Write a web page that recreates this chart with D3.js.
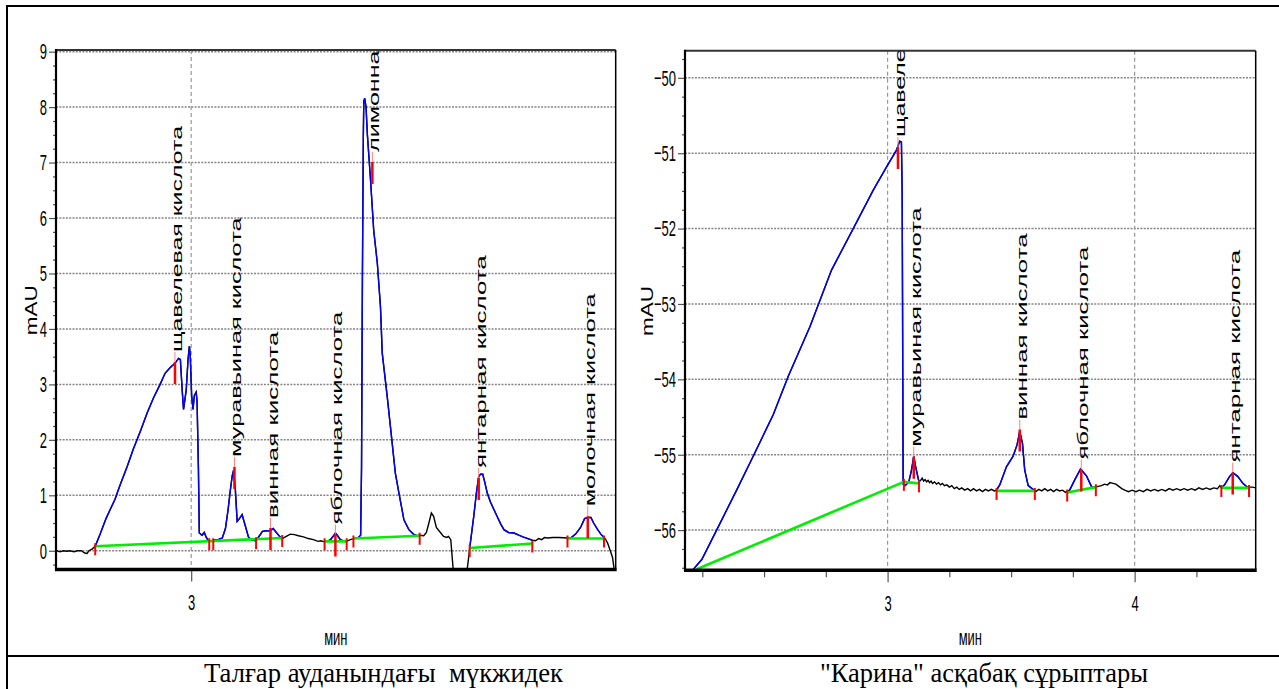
<!DOCTYPE html>
<html>
<head>
<meta charset="utf-8">
<script src="https://cdn.jsdelivr.net/npm/d3@7"></script>
<style>
  body { margin: 0; background: #fff; }
  svg { display: block; }
</style>
</head>
<body>
<svg id="fig" width="1279" height="689"></svg>
<script>
// ---------------- Left chromatogram (time in min, signal in mAU) ----------------
var leftTrace = [
  [2.702,0.00],[2.709,-0.02],[2.716,0.00],[2.724,-0.01],[2.731,0.00],[2.740,-0.02],[2.747,0.00],[2.756,0.00],
  [2.764,-0.04],[2.769,-0.05],[2.773,0.00],[2.780,0.03],[2.787,0.08],
  [2.798,0.30],[2.811,0.58],[2.820,0.74],[2.831,0.93],[2.842,1.18],[2.858,1.52],[2.871,1.82],[2.887,2.15],
  [2.902,2.48],[2.916,2.75],[2.931,3.00],[2.942,3.20],[2.953,3.30],[2.964,3.38],[2.972,3.47],[2.976,3.45],
  [2.980,2.90],[2.983,2.55],[2.989,2.90],[2.993,3.45],[2.996,3.69],[2.998,3.50],[3.001,2.80],[3.004,2.55],
  [3.007,2.80],[3.011,2.86],[3.013,2.70],[3.016,1.50],[3.018,0.32],[3.024,0.28],[3.029,0.33],[3.033,0.25],
  [3.038,0.18],[3.044,0.17],[3.051,0.20],[3.060,0.20],[3.069,0.23],[3.076,0.40],[3.082,0.75],[3.087,1.10],
  [3.091,1.35],[3.094,1.45],[3.098,1.10],[3.102,0.53],[3.107,0.58],[3.113,0.65],[3.120,0.45],[3.127,0.25],
  [3.133,0.20],[3.142,0.18],[3.149,0.24],[3.158,0.35],[3.167,0.36],[3.176,0.36],[3.182,0.40],[3.189,0.33],
  [3.196,0.26],[3.202,0.22],
  [3.211,0.26],[3.220,0.30],[3.229,0.29],[3.238,0.27],[3.249,0.25],[3.260,0.22],[3.271,0.20],[3.282,0.17],
  [3.287,0.18],[3.296,0.16],[3.302,0.17],
  [3.309,0.20],[3.316,0.27],[3.320,0.32],[3.324,0.28],[3.331,0.20],[3.340,0.17],[3.347,0.18],
  [3.353,0.20],[3.362,0.22],
  [3.371,0.24],[3.376,0.28],[3.378,1.50],[3.380,5.00],[3.382,7.50],[3.383,8.10],[3.385,8.16],[3.388,8.00],
  [3.391,7.50],[3.398,6.68],[3.405,5.78],[3.413,5.19],[3.420,4.40],[3.424,3.56],[3.435,2.78],[3.446,1.94],
  [3.453,1.40],[3.461,1.04],[3.472,0.56],[3.483,0.38],[3.493,0.30],[3.502,0.27],[3.507,0.28],
  [3.516,0.27],[3.522,0.33],[3.529,0.55],[3.533,0.68],[3.538,0.62],[3.544,0.42],[3.553,0.33],[3.560,0.26],
  [3.567,0.24],[3.571,0.26],[3.576,0.20],[3.578,0.00],[3.580,-0.20],[3.582,-0.40],[3.589,-0.80],
  [3.607,-0.80],[3.613,-0.30],[3.616,-0.10],[3.618,0.05],
  [3.622,0.30],[3.627,0.62],[3.633,1.05],[3.638,1.34],[3.642,1.38],[3.647,1.38],[3.651,1.25],[3.657,1.04],
  [3.664,0.88],[3.672,0.74],[3.680,0.60],[3.687,0.48],[3.694,0.38],[3.704,0.33],[3.716,0.32],[3.727,0.28],
  [3.736,0.25],[3.747,0.22],[3.757,0.19],
  [3.764,0.18],[3.771,0.22],[3.778,0.20],[3.784,0.24],[3.791,0.23],[3.802,0.24],[3.816,0.24],[3.835,0.23],
  [3.842,0.23],[3.853,0.30],[3.864,0.42],[3.873,0.58],[3.880,0.60],[3.887,0.60],[3.893,0.50],[3.902,0.38],
  [3.909,0.30],[3.916,0.24],
  [3.920,0.20],[3.924,0.14],[3.930,0.00],[3.935,-0.12],[3.938,-0.30],[3.940,-0.40]
];
var leftBlue = [[2.787,3.202],[3.302,3.347],[3.362,3.507],[3.618,3.757],[3.835,3.916]];
var leftBase = [
  [[2.787,0.08],[3.202,0.23]],
  [[3.296,0.17],[3.345,0.17]],
  [[3.360,0.22],[3.507,0.27]],
  [[3.618,0.05],[3.757,0.13]],
  [[3.835,0.22],[3.916,0.22]]
];
var leftCuts = [[2.787,0.08],[3.040,0.17],[3.049,0.17],[3.144,0.19],[3.202,0.23],[3.296,0.17],[3.345,0.17],
  [3.360,0.22],[3.507,0.27],[3.618,0.05],[3.757,0.13],[3.835,0.22],[3.916,0.22]];
var leftPeakNames = ["щавелевая кислота","муравьиная кислота","винная кислота","яблочная кислота",
  "лимонная кислота","янтарная кислота","молочная кислота"];
var leftPeakTimes = [2.964,3.096,3.176,3.320,3.402,3.638,3.880];
var leftPeakValues = [3.33,1.44,0.34,0.22,6.94,1.24,0.55];
var leftYTicks = [0,1,2,3,4,5,6,7,8,9];
var leftYMinor = [-0.25,0.25,0.5,0.75,1.25,1.5,1.75,2.25,2.5,2.75,3.25,3.5,3.75,4.25,4.5,4.75,
  5.25,5.5,5.75,6.25,6.5,6.75,7.25,7.5,7.75,8.25,8.5,8.75];
var leftXTicks = [3];
var leftXMinor = [];

// ---------------- Right chromatogram ----------------
var rightTrace = [
  [2.190,-56.55],[2.205,-56.54],
  [2.214,-56.52],[2.248,-56.39],[2.308,-56.00],[2.389,-55.47],[2.456,-55.02],[2.537,-54.47],[2.598,-53.96],
  [2.686,-53.30],[2.773,-52.55],[2.861,-52.00],[2.942,-51.49],[2.996,-51.18],[3.036,-50.96],[3.049,-50.84],
  [3.056,-50.85],[3.059,-51.50],[3.063,-55.39],[3.071,-55.41],[3.086,-55.36],[3.097,-55.20],[3.106,-55.02],
  [3.113,-55.15],[3.127,-55.36],
  [3.134,-55.34],[3.140,-55.31],[3.146,-55.35],[3.152,-55.33],[3.158,-55.36],[3.164,-55.34],[3.170,-55.37],
  [3.176,-55.35],[3.182,-55.38],[3.190,-55.36],[3.198,-55.39],[3.206,-55.37],[3.214,-55.40],[3.222,-55.38],
  [3.230,-55.41],[3.240,-55.40],[3.250,-55.43],[3.260,-55.41],[3.270,-55.45],[3.280,-55.43],[3.290,-55.46],
  [3.300,-55.44],[3.312,-55.47],[3.324,-55.45],[3.336,-55.48],[3.348,-55.45],[3.360,-55.48],[3.372,-55.46],
  [3.384,-55.49],[3.396,-55.46],[3.408,-55.48],[3.420,-55.46],[3.432,-55.48],[3.441,-55.47],
  [3.454,-55.40],[3.481,-55.16],[3.508,-55.02],[3.524,-54.87],[3.535,-54.69],[3.546,-54.85],[3.555,-55.20],
  [3.569,-55.41],[3.589,-55.46],
  [3.600,-55.49],[3.612,-55.46],[3.624,-55.48],[3.636,-55.45],[3.648,-55.48],[3.660,-55.46],[3.672,-55.49],
  [3.684,-55.46],[3.696,-55.48],[3.708,-55.47],[3.720,-55.50],[3.737,-55.47],
  [3.758,-55.33],[3.781,-55.19],[3.805,-55.28],[3.825,-55.42],[3.839,-55.43],
  [3.852,-55.42],[3.866,-55.41],[3.878,-55.39],[3.890,-55.40],[3.900,-55.37],[3.912,-55.38],[3.924,-55.39],
  [3.936,-55.42],[3.948,-55.45],[3.960,-55.47],[3.975,-55.49],[3.990,-55.47],[4.005,-55.49],[4.020,-55.47],
  [4.035,-55.49],[4.050,-55.46],[4.065,-55.48],[4.080,-55.46],[4.095,-55.48],[4.110,-55.46],[4.125,-55.48],
  [4.140,-55.45],[4.155,-55.47],[4.170,-55.45],[4.185,-55.47],[4.200,-55.45],[4.215,-55.47],[4.230,-55.45],
  [4.245,-55.47],[4.260,-55.44],[4.275,-55.46],[4.290,-55.44],[4.305,-55.46],[4.320,-55.44],[4.335,-55.45],
  [4.345,-55.41],[4.351,-55.44],
  [4.364,-55.40],[4.384,-55.29],[4.398,-55.24],[4.418,-55.29],[4.438,-55.38],[4.452,-55.42],
  [4.465,-55.43],[4.478,-55.43],[4.490,-55.44]
];
var rightBlue = [[2.214,3.127],[3.441,3.589],[3.737,3.839],[4.351,4.452]];
var rightBase = [
  [[2.227,-56.52],[3.066,-55.36]],
  [[3.066,-55.36],[3.127,-55.38]],
  [[3.441,-55.48],[3.596,-55.48]],
  [[3.727,-55.50],[3.843,-55.43]],
  [[4.351,-55.44],[4.463,-55.44]]
];
var rightCuts = [[3.066,-55.36],[3.127,-55.38],[3.441,-55.48],[3.596,-55.48],[3.727,-55.50],[3.843,-55.43],
  [4.351,-55.44],[4.463,-55.44]];
var rightPeakNames = ["щавелевая кислота","муравьиная кислота","винная кислота","яблочная кислота","янтарная кислота"];
var rightPeakTimes = [3.042,3.106,3.535,3.784,4.397];
var rightPeakValues = [-50.97,-55.08,-54.72,-55.25,-55.29];
var rightYTicks = [-56,-55,-54,-53,-52,-51,-50];
var rightYMinor = [-56.5,-56.25,-55.75,-55.5,-55.25,-54.75,-54.5,-54.25,-53.75,-53.5,-53.25,-52.75,-52.5,
  -52.25,-51.75,-51.5,-51.25,-50.75,-50.5,-50.25,-49.75];
var rightXTicks = [3,4];
var rightXMinor = [2.25,2.5,2.75,3.25,3.5,3.75,4.25];

var captions = ["Талғар ауданындағы  мүкжидек", "\"Карина\" асқабақ сұрыптары"];
var yTitle = "mAU", xTitle = "мин";

var svg = d3.select("#fig");
var tickFont = "'Liberation Sans', Arial, sans-serif";

// ---------------- table frame and captions ----------------
svg.append("line").attr("x1", 7).attr("x2", 1279).attr("y1", 6).attr("y2", 6).attr("stroke", "#000").attr("stroke-width", 2);
svg.append("line").attr("x1", 7).attr("x2", 7).attr("y1", 5).attr("y2", 689).attr("stroke", "#000").attr("stroke-width", 2);
svg.append("line").attr("x1", 7).attr("x2", 1279).attr("y1", 656).attr("y2", 656).attr("stroke", "#000").attr("stroke-width", 2);

svg.selectAll("text.caption").data(captions).enter().append("text")
  .attr("class", "caption")
  .attr("x", function(d, i) { return i == 0 ? 204 : 820; })
  .attr("y", 682)
  .attr("textLength", function(d, i) { return i == 0 ? 359 : 328; })
  .attr("lengthAdjust", "spacingAndGlyphs")
  .style("font-family", "'Liberation Serif', 'Times New Roman', serif")
  .style("font-size", "27px")
  .style("white-space", "pre")
  .text(function(d) { return d; });

function drawChart(c, id) {
  var x = d3.scaleLinear().domain(c.xDomain).range([c.left, c.right]);
  var y = d3.scaleLinear().domain(c.yDomain).range([c.bottom, c.top]);
  var g = svg.append("g");

  g.append("clipPath").attr("id", "clip" + id).append("rect")
    .attr("x", c.left).attr("y", c.top)
    .attr("width", c.right - c.left).attr("height", c.bottom - c.top);

  // grid
  g.selectAll("line.hgrid").data(c.yTicks).enter().append("line")
    .attr("x1", c.left).attr("x2", c.right)
    .attr("y1", function(d) { return y(d); }).attr("y2", function(d) { return y(d); })
    .attr("stroke", "#858585").attr("stroke-width", 1.5).attr("stroke-dasharray", "2,1.3");
  g.selectAll("line.vgrid").data(c.xTicks).enter().append("line")
    .attr("x1", function(d) { return x(d); }).attr("x2", function(d) { return x(d); })
    .attr("y1", c.top).attr("y2", c.bottom)
    .attr("stroke", "#999").attr("stroke-width", 1.2).attr("stroke-dasharray", "4,3");

  // axes
  var yAxis = g.append("g").attr("transform", "translate(" + c.left + ",0)")
    .call(d3.axisLeft(y).tickValues(c.yTicks).tickSize(7).tickPadding(2).tickFormat(d3.format("d")));
  var yMinor = g.append("g").attr("transform", "translate(" + c.left + ",0)")
    .call(d3.axisLeft(y).tickValues(c.yMinor).tickSize(3).tickFormat(""));
  var xAxis = g.append("g").attr("transform", "translate(0," + c.bottom + ")")
    .call(d3.axisBottom(x).tickValues(c.xTicks).tickSize(13).tickFormat(d3.format("d")));
  var xMinor = g.append("g").attr("transform", "translate(0," + c.bottom + ")")
    .call(d3.axisBottom(x).tickValues(c.xMinor).tickSize(8).tickFormat(""));
  [yAxis, yMinor, xAxis, xMinor].forEach(function(a) {
    a.select(".domain").remove();
    a.selectAll("line").attr("stroke", "#555").attr("stroke-width", 1.2);
    a.selectAll("text").style("font-family", tickFont).style("font-size", "13px").attr("fill", "#000");
  });
  yAxis.selectAll("text").attr("transform", "scale(1,1.75)");
  xAxis.selectAll("text").attr("y", 19).attr("dy", "0.35em").attr("transform", "scale(1,1.75)");

  // signal: black everywhere, blue over the integrated peaks
  var line = d3.line().x(function(d) { return x(d[0]); }).y(function(d) { return y(d[1]); });
  var plot = g.append("g").attr("clip-path", "url(#clip" + id + ")");
  plot.append("path").datum(c.trace).attr("d", line)
    .attr("fill", "none").attr("stroke", "#000").attr("stroke-width", 1.4);
  plot.selectAll("path.blue").data(c.blue).enter().append("path")
    .attr("d", function(r) { return line(c.trace.filter(function(p) { return p[0] >= r[0] && p[0] <= r[1]; })); })
    .attr("fill", "none").attr("stroke", "#0000ff").attr("stroke-width", 1.4);
  plot.selectAll("path.base").data(c.base).enter().append("path")
    .attr("d", line).attr("fill", "none").attr("stroke", "#00ee00").attr("stroke-width", 2.6);
  plot.selectAll("line.cut").data(c.cuts).enter().append("line")
    .attr("x1", function(d) { return x(d[0]); }).attr("x2", function(d) { return x(d[0]); })
    .attr("y1", function(d) { return y(d[1]) - 3; }).attr("y2", function(d) { return y(d[1]) + 9; })
    .attr("stroke", "#ff0000").attr("stroke-width", 2);

  // apex markers and names
  plot.selectAll("line.apexThin").data(c.peakTimes).enter().append("line")
    .attr("x1", function(d) { return x(d); }).attr("x2", function(d) { return x(d); })
    .attr("y1", function(d, i) { return y(c.peakValues[i]) - 14; })
    .attr("y2", function(d, i) { return y(c.peakValues[i]) - 4; })
    .attr("stroke", "#ff8080").attr("stroke-width", 1);
  plot.selectAll("line.apex").data(c.peakTimes).enter().append("line")
    .attr("x1", function(d) { return x(d); }).attr("x2", function(d) { return x(d); })
    .attr("y1", function(d, i) { return y(c.peakValues[i]) - 4; })
    .attr("y2", function(d, i) { return y(c.peakValues[i]) + 18; })
    .attr("stroke", "#ff0000").attr("stroke-width", 2.5);
  plot.selectAll("text.peak").data(c.peakNames).enter().append("text")
    .attr("transform", function(d, i) {
      return "translate(" + (x(c.peakTimes[i]) + 7) + "," + (y(c.peakValues[i]) - 14) + ") rotate(-90)";
    })
    .attr("textLength", function(d) { return d.length * 13.3; })
    .attr("lengthAdjust", "spacingAndGlyphs")
    .style("font-family", tickFont).style("font-size", "15px")
    .text(function(d) { return d; });

  // frame
  g.append("line").attr("x1", c.left).attr("x2", c.right).attr("y1", c.top).attr("y2", c.top)
    .attr("stroke", "#333").attr("stroke-width", 2);
  g.append("line").attr("x1", c.right).attr("x2", c.right).attr("y1", c.top).attr("y2", c.bottom)
    .attr("stroke", "#000").attr("stroke-width", 1.5);
  g.append("line").attr("x1", c.left).attr("x2", c.left).attr("y1", c.top - 1).attr("y2", c.bottom + 2)
    .attr("stroke", "#000").attr("stroke-width", 2.2);
  g.append("line").attr("x1", c.left - 1).attr("x2", c.right + 1).attr("y1", c.bottom + 1).attr("y2", c.bottom + 1)
    .attr("stroke", "#000").attr("stroke-width", 3.5);

  // titles
  g.append("text")
    .attr("transform", "translate(" + (c.left - c.titleGap) + "," + ((c.top + c.bottom) / 2 + 1) + ") rotate(-90)")
    .attr("text-anchor", "middle")
    .attr("textLength", 50).attr("lengthAdjust", "spacingAndGlyphs")
    .style("font-family", tickFont).style("font-size", "16px")
    .text(yTitle);
  g.append("g").attr("transform", "translate(" + ((c.left + c.right) / 2) + ",645)")
    .append("text").attr("text-anchor", "middle").attr("transform", "scale(1,1.75)")
    .style("font-family", tickFont).style("font-size", "13px")
    .text(xTitle);
}

drawChart({
  left: 56, right: 615.7, top: 50, bottom: 568.5, titleGap: 19,
  xDomain: [2.7, 3.942], yDomain: [-0.32, 9.03],
  trace: leftTrace, blue: leftBlue, base: leftBase, cuts: leftCuts,
  peakNames: leftPeakNames, peakTimes: leftPeakTimes, peakValues: leftPeakValues,
  yTicks: leftYTicks, yMinor: leftYMinor, xTicks: leftXTicks, xMinor: leftXMinor
}, "L");

drawChart({
  left: 685, right: 1255.7, top: 50.7, bottom: 569.3, titleGap: 32,
  xDomain: [2.18, 4.49], yDomain: [-56.52, -49.64],
  trace: rightTrace, blue: rightBlue, base: rightBase, cuts: rightCuts,
  peakNames: rightPeakNames, peakTimes: rightPeakTimes, peakValues: rightPeakValues,
  yTicks: rightYTicks, yMinor: rightYMinor, xTicks: rightXTicks, xMinor: rightXMinor
}, "R");
</script>
</body>
</html>
